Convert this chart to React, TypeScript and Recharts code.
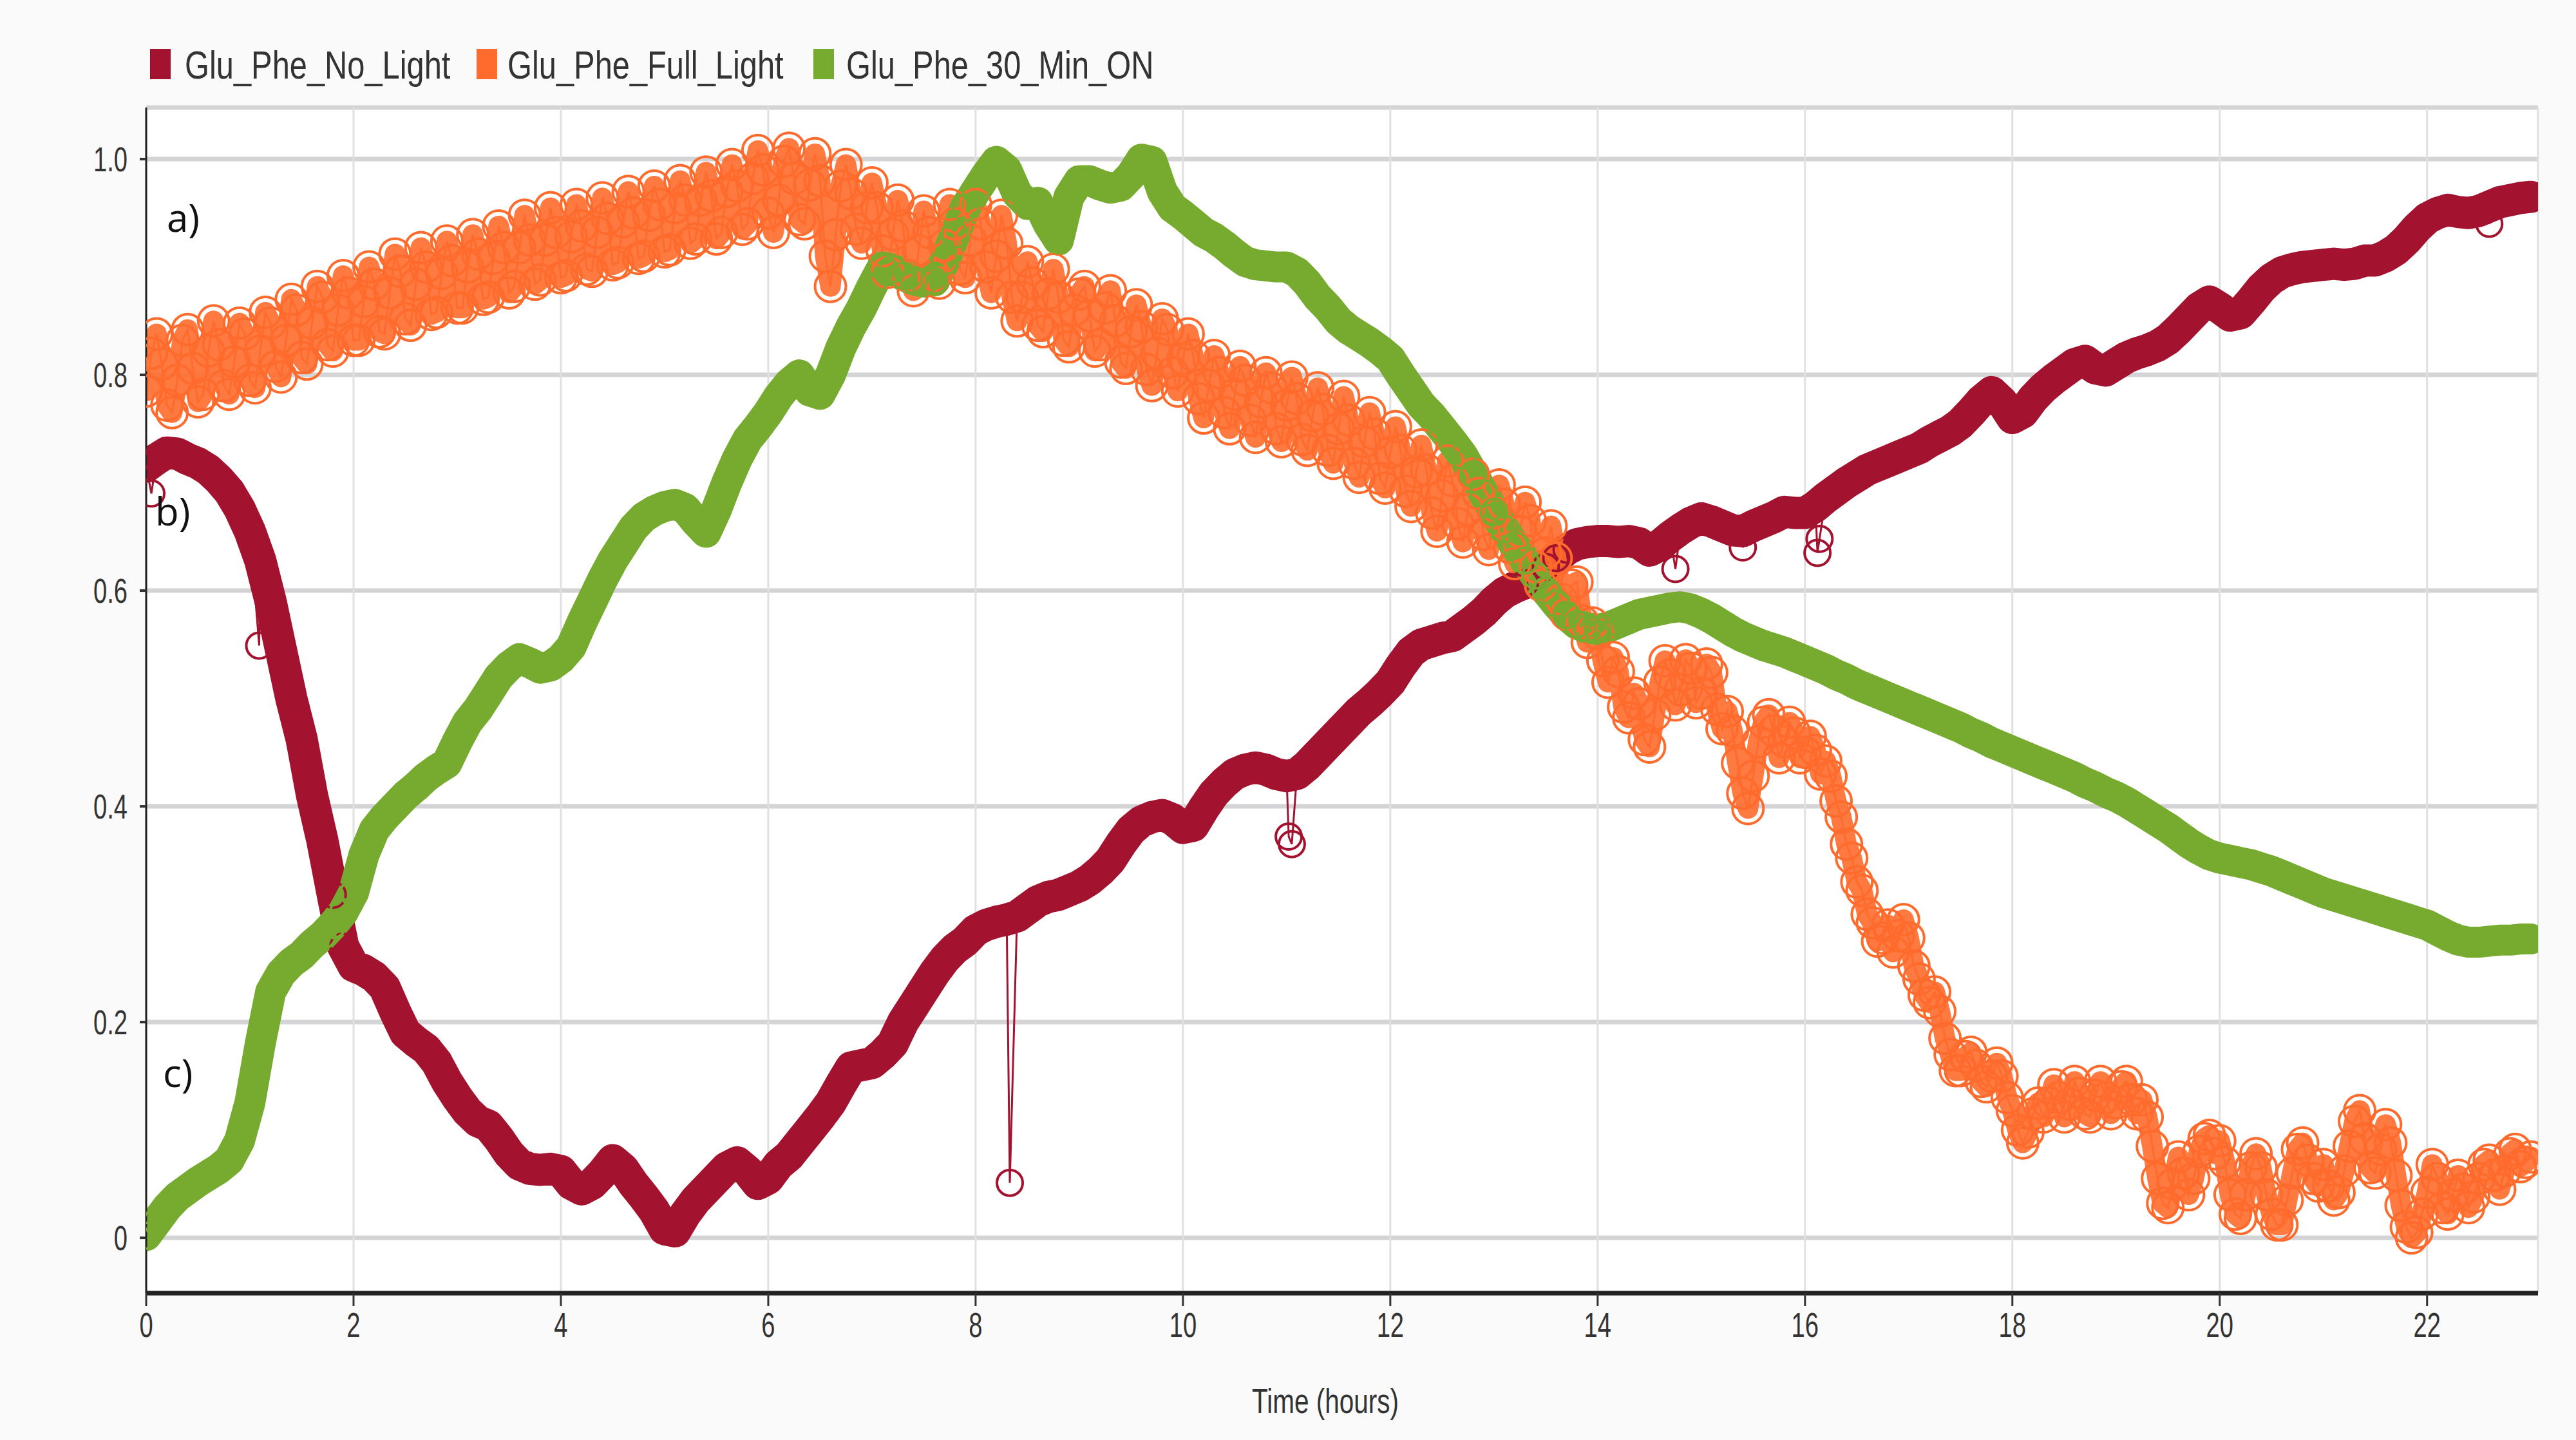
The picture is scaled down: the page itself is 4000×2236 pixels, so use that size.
import React from "react";
import { LineChart, Line, XAxis, YAxis, CartesianGrid } from "recharts";

document.body.style.margin = "0";
document.body.style.background = "#fafafa";

// the source uses a condensed face; Liberation Sans squeezed horizontally stands in for it
const FONT = "'Liberation Sans', Arial, sans-serif";

const seriesNames = ["Glu_Phe_No_Light", "Glu_Phe_Full_Light", "Glu_Phe_30_Min_ON"];
const seriesColors = ["#a3132f", "#ff6b2c", "#77ab2f"];

const xTicks = [0, 2, 4, 6, 8, 10, 12, 14, 16, 18, 20, 22];
const yTicks = [0, 0.2, 0.4, 0.6, 0.8, 1.0];
const yTickLabels = ["0", "0.2", "0.4", "0.6", "0.8", "1.0"];
const xTitle = "Time (hours)";
const panelLabels = ["a)", "b)", "c)"];

// Glu_Phe_No_Light, every 0.1 h from 0 to 23
const noLight = [
  0.715, 0.722, 0.728, 0.727, 0.722, 0.718, 0.712, 0.703, 0.692, 0.676,
  0.655, 0.628, 0.59, 0.545, 0.5, 0.462, 0.41, 0.368, 0.318, 0.27,
  0.252, 0.248, 0.242, 0.232, 0.21, 0.19, 0.182, 0.175, 0.163, 0.145,
  0.13, 0.117, 0.108, 0.104, 0.092, 0.078, 0.068, 0.064, 0.063, 0.064,
  0.062, 0.05, 0.045, 0.05, 0.06, 0.072, 0.064, 0.05, 0.038, 0.025,
  0.008, 0.006, 0.022, 0.035, 0.045, 0.055, 0.065, 0.07, 0.062, 0.05,
  0.055, 0.068, 0.076, 0.088, 0.1, 0.112, 0.125, 0.142, 0.158, 0.16,
  0.162, 0.17, 0.18, 0.2, 0.215, 0.23, 0.245, 0.258, 0.268, 0.275,
  0.285, 0.29, 0.293, 0.295, 0.298, 0.305, 0.312, 0.316, 0.318, 0.322,
  0.326, 0.332, 0.34, 0.35, 0.365, 0.378, 0.386, 0.39, 0.392, 0.388,
  0.38, 0.382, 0.398, 0.412, 0.422, 0.43, 0.434, 0.436, 0.434, 0.43,
  0.428, 0.43, 0.438, 0.448, 0.458, 0.468, 0.478, 0.488, 0.496, 0.505,
  0.515, 0.53, 0.543, 0.55, 0.553, 0.556, 0.558, 0.565, 0.572, 0.58,
  0.59, 0.598, 0.603, 0.607, 0.614, 0.622, 0.63, 0.638, 0.643, 0.645,
  0.646, 0.646, 0.645, 0.646, 0.644, 0.637, 0.642, 0.65, 0.657, 0.663,
  0.667, 0.664, 0.66, 0.656, 0.655, 0.66, 0.664, 0.668, 0.673, 0.672,
  0.672, 0.678, 0.686, 0.693, 0.7, 0.706, 0.712, 0.716, 0.72, 0.724,
  0.728, 0.732, 0.738, 0.743, 0.748, 0.755, 0.765, 0.776, 0.784, 0.775,
  0.76, 0.765, 0.778, 0.788, 0.796, 0.803, 0.81, 0.813, 0.806, 0.804,
  0.81, 0.816, 0.82, 0.823, 0.827, 0.833, 0.842, 0.852, 0.862, 0.868,
  0.862, 0.855, 0.857, 0.868, 0.88, 0.889, 0.895, 0.898, 0.9, 0.901,
  0.902, 0.903, 0.902, 0.903, 0.906, 0.906, 0.91, 0.916, 0.925, 0.936,
  0.945, 0.95, 0.953, 0.951, 0.95, 0.952, 0.956, 0.96, 0.962, 0.964,
  0.965,
];
const noLightOutlierTimes = [0.05, 1.09, 8.33, 11.02, 11.05, 14.75, 15.4, 16.12, 16.14, 22.6];
const noLightOutlierValues = [0.69, 0.549, 0.051, 0.372, 0.365, 0.62, 0.64, 0.635, 0.648, 0.94];

// Glu_Phe_30_Min_ON, every 0.1 h from 0 to 23
const thirtyMinOn = [
  0.002, 0.015, 0.028, 0.038, 0.045, 0.052, 0.058, 0.064, 0.072, 0.09,
  0.125, 0.18, 0.228, 0.245, 0.255, 0.262, 0.272, 0.28, 0.29, 0.302,
  0.32, 0.355, 0.378, 0.39, 0.4, 0.41, 0.418, 0.427, 0.434, 0.44,
  0.46, 0.478, 0.49, 0.505, 0.52, 0.53, 0.537, 0.533, 0.528, 0.53,
  0.537, 0.548, 0.57, 0.59, 0.61, 0.628, 0.643, 0.658, 0.668, 0.674,
  0.678, 0.68, 0.676, 0.664, 0.654, 0.675, 0.7, 0.722, 0.74, 0.752,
  0.765, 0.78, 0.792, 0.8, 0.785, 0.782, 0.8, 0.825, 0.845, 0.862,
  0.882, 0.9, 0.898, 0.892, 0.888, 0.886, 0.887, 0.905, 0.93, 0.955,
  0.97, 0.985, 0.998, 0.99, 0.968, 0.958, 0.96, 0.94, 0.925, 0.965,
  0.98, 0.98, 0.976, 0.973, 0.975, 0.985, 1.0, 0.998, 0.97, 0.955,
  0.948, 0.94, 0.932, 0.927, 0.92, 0.912, 0.905, 0.902, 0.901, 0.9,
  0.9, 0.895, 0.885, 0.872, 0.862, 0.85, 0.842, 0.836, 0.83, 0.823,
  0.815, 0.8, 0.786, 0.772, 0.762, 0.75, 0.738, 0.725, 0.708, 0.69,
  0.673, 0.657, 0.642, 0.628, 0.614, 0.6, 0.588, 0.577, 0.569, 0.565,
  0.564, 0.566, 0.57, 0.574, 0.578, 0.58, 0.582, 0.584, 0.585, 0.583,
  0.579, 0.574, 0.568, 0.562, 0.557, 0.553, 0.549, 0.546, 0.543, 0.539,
  0.535, 0.531, 0.527, 0.522, 0.518, 0.513, 0.509, 0.505, 0.501, 0.497,
  0.493, 0.489, 0.485, 0.481, 0.477, 0.473, 0.468, 0.464, 0.459, 0.455,
  0.451, 0.447, 0.443, 0.439, 0.435, 0.431, 0.427, 0.422, 0.418, 0.413,
  0.409, 0.404, 0.398, 0.392, 0.386, 0.38, 0.373, 0.366, 0.36, 0.355,
  0.352, 0.35, 0.348, 0.346, 0.343, 0.34, 0.336, 0.332, 0.328, 0.324,
  0.32, 0.317, 0.314, 0.311, 0.308, 0.305, 0.302, 0.299, 0.296, 0.293,
  0.29, 0.285, 0.28, 0.276, 0.274, 0.274, 0.275, 0.276, 0.276, 0.277,
  0.277,
];

// Glu_Phe_Full_Light, every 0.05 h from 0 to 23 (one row per hour)
const fullLight = [
  0.785, 0.82, 0.838, 0.81, 0.772, 0.765, 0.795, 0.832, 0.842, 0.806, 0.775, 0.782, 0.822, 0.85, 0.828, 0.79, 0.782, 0.812, 0.848, 0.838,
  0.795, 0.788, 0.822, 0.858, 0.848, 0.808, 0.798, 0.832, 0.87, 0.86, 0.816, 0.81, 0.848, 0.882, 0.872, 0.828, 0.822, 0.86, 0.892, 0.876,
  0.832, 0.832, 0.868, 0.9, 0.884, 0.84, 0.838, 0.876, 0.912, 0.896, 0.852, 0.846, 0.884, 0.918, 0.9, 0.856, 0.858, 0.894, 0.924, 0.906,
  0.862, 0.862, 0.9, 0.93, 0.912, 0.87, 0.872, 0.908, 0.938, 0.918, 0.876, 0.882, 0.918, 0.948, 0.925, 0.884, 0.888, 0.925, 0.955, 0.932,
  0.89, 0.892, 0.928, 0.958, 0.938, 0.898, 0.896, 0.932, 0.964, 0.945, 0.902, 0.904, 0.942, 0.97, 0.95, 0.908, 0.91, 0.948, 0.975, 0.958,
  0.914, 0.916, 0.955, 0.98, 0.962, 0.922, 0.926, 0.962, 0.988, 0.966, 0.926, 0.932, 0.97, 0.995, 0.975, 0.935, 0.94, 0.982, 1.008, 0.99,
  0.95, 0.932, 0.962, 0.998, 1.01, 0.982, 0.944, 0.94, 0.976, 1.005, 0.98, 0.91, 0.882, 0.93, 0.975, 0.995, 0.968, 0.935, 0.922, 0.955,
  0.978, 0.955, 0.915, 0.895, 0.93, 0.962, 0.938, 0.892, 0.878, 0.915, 0.952, 0.932, 0.892, 0.885, 0.92, 0.958, 0.94, 0.898, 0.89, 0.925,
  0.958, 0.94, 0.9, 0.876, 0.91, 0.948, 0.922, 0.872, 0.85, 0.872, 0.905, 0.885, 0.846, 0.84, 0.875, 0.898, 0.872, 0.832, 0.826, 0.86,
  0.875, 0.882, 0.855, 0.822, 0.828, 0.862, 0.878, 0.85, 0.812, 0.806, 0.84, 0.865, 0.845, 0.805, 0.79, 0.82, 0.852, 0.842, 0.802, 0.785,
  0.815, 0.838, 0.818, 0.778, 0.76, 0.79, 0.818, 0.802, 0.765, 0.75, 0.782, 0.808, 0.795, 0.758, 0.742, 0.775, 0.802, 0.788, 0.75, 0.738,
  0.772, 0.798, 0.778, 0.74, 0.73, 0.762, 0.788, 0.768, 0.73, 0.718, 0.75, 0.78, 0.758, 0.718, 0.705, 0.738, 0.765, 0.745, 0.704, 0.695,
  0.728, 0.752, 0.73, 0.692, 0.678, 0.71, 0.735, 0.712, 0.672, 0.655, 0.688, 0.72, 0.702, 0.662, 0.645, 0.675, 0.708, 0.69, 0.652, 0.638,
  0.672, 0.698, 0.68, 0.64, 0.625, 0.655, 0.682, 0.665, 0.622, 0.605, 0.635, 0.66, 0.63, 0.592, 0.578, 0.605, 0.608, 0.572, 0.552, 0.57,
  0.56, 0.535, 0.515, 0.538, 0.525, 0.492, 0.482, 0.505, 0.495, 0.462, 0.455, 0.485, 0.515, 0.535, 0.522, 0.494, 0.508, 0.536, 0.528, 0.496,
  0.505, 0.532, 0.524, 0.49, 0.472, 0.488, 0.47, 0.44, 0.412, 0.398, 0.428, 0.46, 0.478, 0.485, 0.47, 0.445, 0.46, 0.478, 0.468, 0.445,
  0.45, 0.465, 0.452, 0.43, 0.442, 0.428, 0.405, 0.39, 0.365, 0.352, 0.33, 0.322, 0.3, 0.292, 0.275, 0.278, 0.29, 0.265, 0.28, 0.295,
  0.278, 0.252, 0.24, 0.225, 0.218, 0.228, 0.21, 0.185, 0.17, 0.155, 0.155, 0.168, 0.172, 0.16, 0.145, 0.14, 0.15, 0.162, 0.15, 0.13,
  0.118, 0.1, 0.088, 0.098, 0.115, 0.125, 0.112, 0.125, 0.142, 0.13, 0.112, 0.124, 0.145, 0.134, 0.115, 0.112, 0.132, 0.145, 0.13, 0.115,
  0.125, 0.14, 0.145, 0.128, 0.115, 0.128, 0.112, 0.085, 0.055, 0.032, 0.028, 0.05, 0.075, 0.06, 0.04, 0.055, 0.08, 0.092, 0.095, 0.078,
  0.09, 0.07, 0.04, 0.022, 0.018, 0.04, 0.065, 0.078, 0.065, 0.04, 0.022, 0.012, 0.012, 0.035, 0.06, 0.082, 0.088, 0.072, 0.055, 0.048,
  0.068, 0.048, 0.035, 0.042, 0.062, 0.085, 0.108, 0.118, 0.092, 0.065, 0.06, 0.082, 0.105, 0.088, 0.058, 0.03, 0.01, 0.0, 0.005, 0.022,
  0.042, 0.068, 0.055, 0.028, 0.022, 0.04, 0.058, 0.045, 0.028, 0.038, 0.055, 0.068, 0.072, 0.058, 0.045, 0.062, 0.078, 0.082, 0.066, 0.07,
  0.075,
];

const toPoints = (vals: number[], step: number) =>
  vals.map((v, i) => ({ t: Math.round(i * step * 100) / 100, v }));

const noLightBand = toPoints(noLight, 0.1);
const noLightPoints = [
  ...noLightBand,
  ...noLightOutlierTimes.map((t, i) => ({ t, v: noLightOutlierValues[i] })),
].sort((a, b) => a.t - b.t);
const fullLightPoints = toPoints(fullLight, 0.05);
const thirtyMinPoints = toPoints(thirtyMinOn, 0.1);

const ring = (color: string, r: number) => ({ r, stroke: color, strokeWidth: 4, fill: "none" });

const XTick = ({ x, y, payload }: any) => (
  <text
    transform={`translate(${x},${y + 38}) scale(0.72,1)`}
    textAnchor="middle"
    fontFamily={FONT}
    fontSize={53}
    fill="#333"
  >
    {payload.value}
  </text>
);

const YTick = ({ x, y, payload }: any) => (
  <text
    transform={`translate(${x},${y + 19}) scale(0.72,1)`}
    textAnchor="end"
    fontFamily={FONT}
    fontSize={53}
    fill="#333"
  >
    {yTickLabels[yTicks.indexOf(payload.value)] ?? payload.value}
  </text>
);

const legendMarkerLeft = [233, 740, 1263];
const legendTextLeft = [287, 788, 1314];

const Legend = () => (
  <div style={{ position: "absolute", left: 0, top: 0 }}>
    {seriesNames.map((name, i) => (
      <React.Fragment key={name}>
        <div
          style={{
            position: "absolute",
            left: legendMarkerLeft[i],
            top: 76,
            width: 32,
            height: 47,
            background: seriesColors[i],
          }}
        />
        <div
          style={{
            position: "absolute",
            left: legendTextLeft[i],
            top: 66,
            fontFamily: FONT,
            fontSize: 61,
            lineHeight: "70px",
            color: "#333",
            whiteSpace: "nowrap",
            transform: "scaleX(0.8)",
            transformOrigin: "left center",
          }}
        >
          {name}
        </div>
      </React.Fragment>
    ))}
  </div>
);

const App = () => {
  return (
    <div style={{ position: "relative", width: 4000, height: 2236, background: "#fafafa" }}>
      <LineChart
        width={4000}
        height={2236}
        margin={{ top: 167, right: 59, bottom: 28, left: 167 }}
      >
        <CartesianGrid vertical={false} stroke="#d4d4d7" strokeWidth={7} fill="#ffffff" fillOpacity={1} />
        <CartesianGrid horizontal={false} stroke="#e0e0e0" strokeWidth={3} />
        <XAxis
          dataKey="t"
          type="number"
          domain={[0, 23.07]}
          ticks={xTicks}
          allowDataOverflow
          height={200}
          tickSize={20}
          tickMargin={10}
          tick={<XTick />}
          tickLine={{ stroke: "#333", strokeWidth: 3 }}
          axisLine={{ stroke: "#222", strokeWidth: 7 }}
        />
        <XAxis
          xAxisId="top"
          orientation="top"
          dataKey="t"
          type="number"
          domain={[0, 23.07]}
          height={0}
          tick={false}
          tickLine={false}
          axisLine={{ stroke: "#222", strokeWidth: 8 }}
        />
        <YAxis
          type="number"
          domain={[-0.0513, 1.0478]}
          ticks={yTicks}
          allowDataOverflow
          width={60}
          tickSize={10}
          tickMargin={19}
          tick={<YTick />}
          tickLine={{ stroke: "#333", strokeWidth: 4 }}
          axisLine={{ stroke: "#222", strokeWidth: 3 }}
        />
        <YAxis
          yAxisId="right"
          orientation="right"
          type="number"
          domain={[-0.0513, 1.0478]}
          width={0}
          tick={false}
          tickLine={false}
          axisLine={{ stroke: "#555", strokeWidth: 4 }}
        />

        <Line
          data={noLightBand}
          dataKey="v"
          stroke={seriesColors[0]}
          strokeWidth={50}
          strokeLinejoin="round"
          strokeLinecap="round"
          dot={false}
          legendType="none"
          isAnimationActive={false}
        />
        <Line
          data={noLightPoints}
          dataKey="v"
          name={seriesNames[0]}
          stroke={seriesColors[0]}
          strokeWidth={3}
          dot={ring(seriesColors[0], 20)}
          isAnimationActive={false}
        />
        <Line
          data={fullLightPoints}
          dataKey="v"
          stroke={seriesColors[1]}
          strokeWidth={32}
          strokeOpacity={0.9}
          strokeLinejoin="round"
          strokeLinecap="round"
          dot={false}
          legendType="none"
          isAnimationActive={false}
        />
        <Line
          data={fullLightPoints}
          dataKey="v"
          name={seriesNames[1]}
          stroke={seriesColors[1]}
          strokeWidth={3}
          dot={ring(seriesColors[1], 24)}
          isAnimationActive={false}
        />
        <Line
          data={thirtyMinPoints}
          dataKey="v"
          stroke={seriesColors[2]}
          strokeWidth={48}
          strokeLinejoin="round"
          strokeLinecap="round"
          dot={false}
          legendType="none"
          isAnimationActive={false}
        />
        <Line
          data={thirtyMinPoints}
          dataKey="v"
          name={seriesNames[2]}
          stroke={seriesColors[2]}
          strokeWidth={3}
          dot={ring(seriesColors[2], 20)}
          isAnimationActive={false}
        />
      </LineChart>

      <Legend />

      <svg
        width={4000}
        height={2236}
        style={{ position: "absolute", left: 0, top: 0, pointerEvents: "none" }}
      >
        <text
          transform="translate(2058,2194) scale(0.75,1)"
          textAnchor="middle"
          fontFamily={FONT}
          fontSize={54}
          fill="#333"
        >
          {xTitle}
        </text>
        {panelLabels.map((label, i) => (
          <text
            key={label}
            x={[259, 241, 253][i]}
            y={[360, 816, 1688][i]}
            fontFamily="'Open Sans', sans-serif"
            fontSize={60}
            fill="#111"
          >
            {label}
          </text>
        ))}
      </svg>
    </div>
  );
};

export default App;
